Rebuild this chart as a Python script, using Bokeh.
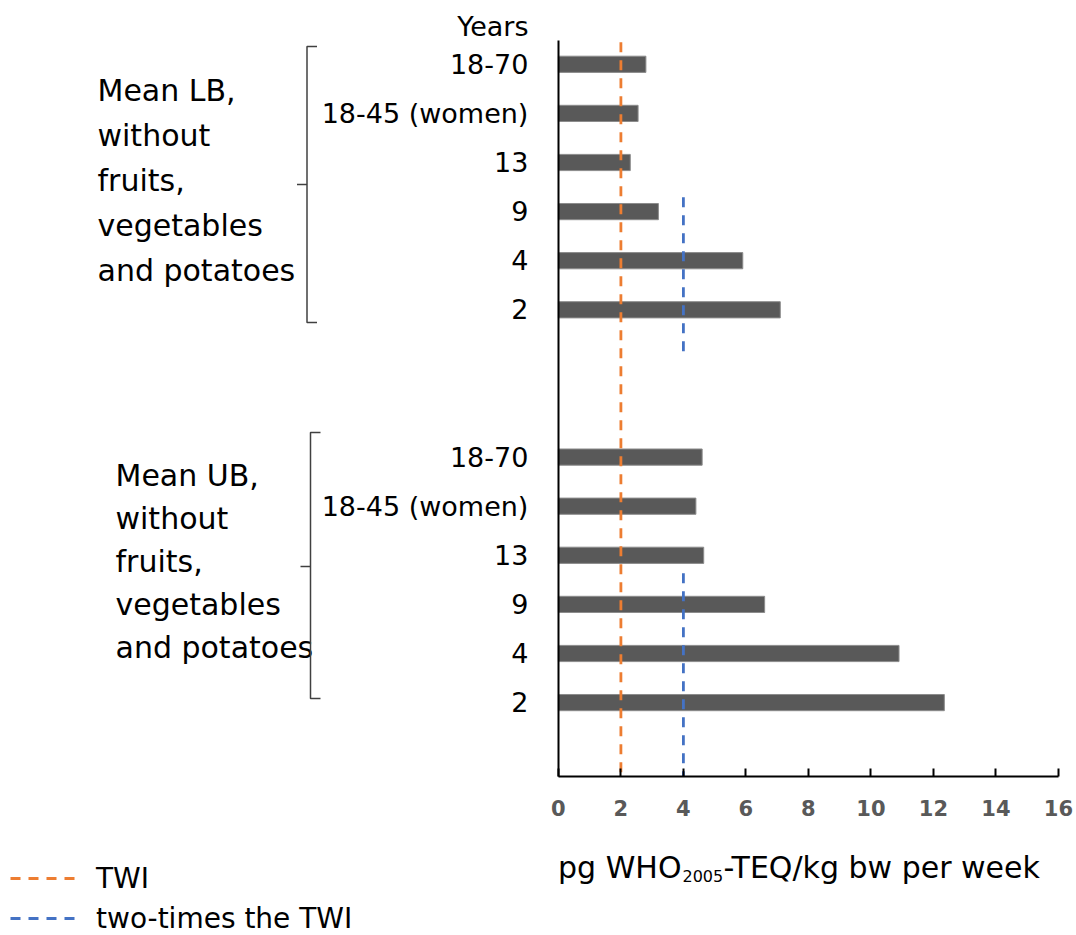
from bokeh.plotting import figure
from bokeh.models import (Range1d, LinearAxis, FixedTicker, Legend, LegendItem,
                          ColumnDataSource)
from bokeh.core.properties import value
from bokeh.embed import file_html
from bokeh.resources import INLINE

# ---------------- data ----------------
AGE_GROUPS = ["18-70", "18-45 (women)", "13", "9", "4", "2"]
MEAN_LB = [2.8, 2.55, 2.3, 3.2, 5.9, 7.1]        # Mean LB, without fruits, vegetables and potatoes
MEAN_UB = [4.6, 4.4, 4.65, 6.6, 10.9, 12.35]     # Mean UB, without fruits, vegetables and potatoes
GROUP_LB_TEXT = ["Mean LB,", "without", "fruits,", "vegetables", "and potatoes"]
GROUP_UB_TEXT = ["Mean UB,", "without", "fruits,", "vegetables", "and potatoes"]
YEARS_LABEL = "Years"
X_TICKS = [0, 2, 4, 6, 8, 10, 12, 14, 16]
TWI = 2.0
TWO_TWI = 4.0
LEGEND_LABELS = ["TWI", "two-times the TWI"]
X_TITLE_PARTS = ["pg WHO", "2005", "-TEQ/kg bw per week"]

# ---------------- layout helpers ----------------
W, H = 1076, 935
PX0, PX_PER_UNIT = 557.9, 31.25      # pixel x of value 0, pixels per unit
PY0, PY_PER_SLOT = 63.8, 49.1        # pixel y of top category row, pixels per row
TOP_ROW = 14


def dx(px):
    return (px - PX0) / PX_PER_UNIT


def dy(py):
    return TOP_ROW - (py - PY0) / PY_PER_SLOT


FONT_NAME = "DejaVu Sans"
FONT = value(FONT_NAME)
BLACK = "#000000"

p = figure(width=W, height=H, output_backend="svg", toolbar_location=None,
           x_range=Range1d(dx(0), dx(W)), y_range=Range1d(dy(H), dy(0)),
           x_axis_type=None, y_axis_type=None, min_border=0,
           outline_line_color=None, background_fill_color="white",
           border_fill_color="white")

# row positions: LB rows 14..9, two blank rows, UB rows 6..1, one blank row
lb_rows = [TOP_ROW - i for i in range(len(AGE_GROUPS))]
ub_rows = [6 - i for i in range(len(AGE_GROUPS))]

src = ColumnDataSource(dict(y=lb_rows + ub_rows, right=MEAN_LB + MEAN_UB))
p.hbar(y="y", right="right", left=0, height=0.33, source=src,
       fill_color="#595959", line_color="#8c8c8c", line_width=1)

# reference lines
twi_r = p.segment(x0=[TWI], y0=[dy(41.7)], x1=[TWI], y1=[-0.5],
                  line_color="#ED7D31", line_width=2.8, line_dash="10 8")
two_r = p.segment(x0=[TWO_TWI, TWO_TWI], y0=[dy(196.7), dy(572.7)],
                  x1=[TWO_TWI, TWO_TWI], y1=[dy(354), -0.5],
                  line_color="#4472C4", line_width=2.8, line_dash="10 8")

# axes
label_map = {}
for r, g in zip(lb_rows, AGE_GROUPS):
    label_map[r] = g
for r, g in zip(ub_rows, AGE_GROUPS):
    label_map[r] = g

yax = LinearAxis(fixed_location=0, bounds=(-0.5, dy(40)),
                 ticker=FixedTicker(ticks=lb_rows + ub_rows),
                 major_label_overrides=label_map,
                 axis_line_color=BLACK, axis_line_width=2,
                 major_tick_in=0, major_tick_out=0,
                 minor_tick_in=0, minor_tick_out=0,
                 major_label_standoff=30,
                 major_label_text_font=FONT_NAME,
                 major_label_text_font_size="27px",
                 major_label_text_color=BLACK)
p.add_layout(yax, "left")

xax = LinearAxis(fixed_location=-0.5, bounds=(X_TICKS[0], X_TICKS[-1]),
                 ticker=FixedTicker(ticks=X_TICKS),
                 axis_line_color=BLACK, axis_line_width=2,
                 major_tick_in=8, major_tick_out=0,
                 major_tick_line_color=BLACK, major_tick_line_width=2,
                 minor_tick_in=0, minor_tick_out=0,
                 major_label_standoff=24,
                 major_label_text_font=FONT_NAME,
                 major_label_text_font_size="21px",
                 major_label_text_font_style="bold",
                 major_label_text_color="#595959")
p.add_layout(xax, "below")

# "Years" header
p.text(x=[dx(528)], y=[dy(26)], text=[YEARS_LABEL], text_align="right",
       text_baseline="middle", text_font=FONT, text_font_size="27px",
       text_color=BLACK)

# group descriptions
p.text(x=[dx(97)] * len(GROUP_LB_TEXT),
       y=[dy(90 + 45 * i) for i in range(len(GROUP_LB_TEXT))],
       text=GROUP_LB_TEXT, text_align="left", text_baseline="middle",
       text_font=FONT, text_font_size="30px", text_color=BLACK)
p.text(x=[dx(115)] * len(GROUP_UB_TEXT),
       y=[dy(475 + 43 * i) for i in range(len(GROUP_UB_TEXT))],
       text=GROUP_UB_TEXT, text_align="left", text_baseline="middle",
       text_font=FONT, text_font_size="30px", text_color=BLACK)

# brackets
def bracket(xv, top, bot, mid, serif=10, tick=10):
    xs = [[dx(xv + serif), dx(xv), dx(xv), dx(xv + serif)],
          [dx(xv), dx(xv - tick)]]
    ys = [[dy(top), dy(top), dy(bot), dy(bot)], [dy(mid), dy(mid)]]
    return xs, ys


bx1, by1 = bracket(306.5, 46, 322, 184)
bx2, by2 = bracket(310, 432, 698, 566)
p.multi_line(xs=bx1 + bx2, ys=by1 + by2, line_color="#404040", line_width=1.5)

# x axis title with subscript
p.text(x=[dx(681)], y=[dy(867)], text=[X_TITLE_PARTS[0]], text_align="right",
       text_baseline="alphabetic", text_font=FONT, text_font_size="30px",
       text_color=BLACK)
p.text(x=[dx(682)], y=[dy(875)], text=[X_TITLE_PARTS[1]], text_align="left",
       text_baseline="alphabetic", text_font=FONT, text_font_size="16px",
       text_color=BLACK)
p.text(x=[dx(723)], y=[dy(867)], text=[X_TITLE_PARTS[2]], text_align="left",
       text_baseline="alphabetic", text_font=FONT, text_font_size="30px",
       text_color=BLACK)

# legend
legend = Legend(items=[LegendItem(label=LEGEND_LABELS[0], renderers=[twi_r]),
                       LegendItem(label=LEGEND_LABELS[1], renderers=[two_r])],
                location=(10, -2), orientation="vertical",
                glyph_width=68, glyph_height=38, label_height=38,
                label_standoff=18, spacing=2, padding=0, margin=0,
                border_line_color=None, background_fill_alpha=0,
                label_text_font=FONT_NAME, label_text_font_size="28px",
                label_text_color=BLACK)
p.add_layout(legend)

open("out.html", "w").write(file_html(p, INLINE))
